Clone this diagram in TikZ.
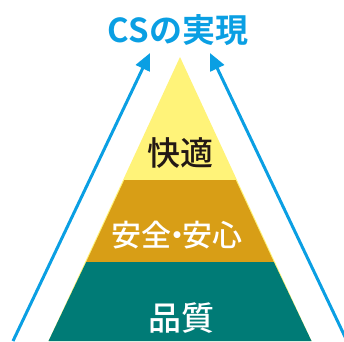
\documentclass[tikz,border=0pt]{standalone}
\usepackage{fontspec}
\setmainfont{Noto Sans CJK JP}
\newfontfamily\cjkbold{Noto Sans CJK JP Bold}
\newfontfamily\cjkmed{Noto Sans CJK JP Medium}
\usetikzlibrary{arrows.meta}
\definecolor{csblue}{HTML}{0A9FE3}
\definecolor{pyyellow}{HTML}{FFF379}
\definecolor{pyorange}{HTML}{D89E16}
\definecolor{pyteal}{HTML}{007B76}
\definecolor{pydark}{HTML}{231815}
\tikzset{
  upArrow/.style={draw=csblue, line width=3pt, -{Triangle[length=17pt,width=15pt]}},
  layerText/.style={font=\cjkmed\fontsize{33}{33}\selectfont, inner sep=0pt},
}
\begin{document}
\begin{tikzpicture}[x=1pt,y=-1pt]
\useasboundingbox (0,0) rectangle (344,341);
\clip (0,0) rectangle (344,341);
% pyramid
\fill[pyyellow] (180,57) -- (311.5,341) -- (48.5,341) -- cycle;
\fill[pyorange] (124.3,180) -- (235.7,180) -- (273.8,262) -- (86.2,262) -- cycle;
\fill[pyteal] (86.2,262) -- (273.8,262) -- (311.5,341) -- (48.5,341) -- cycle;
% labels
\node[layerText, text=pydark] (comfort) at (180,153) {快適};
\node[layerText, text=white, font=\cjkmed\fontsize{30}{30}\selectfont] (safety) at (177,235) {安全\kern-0.33em・\kern-0.33em安心};
\node[layerText, text=white] (quality) at (181,318) {品質};
\node[font=\cjkbold\fontsize{33}{33}\selectfont, text=csblue, inner sep=0pt] (title) at (178,30) {CSの実現};
% arrows
\coordinate (lb) at (13,341);
\coordinate (lt) at (150,53);
\coordinate (rb) at (347,341);
\coordinate (rt) at (210,53);
\draw[upArrow] (lb) -- (lt);
\draw[upArrow] (rb) -- (rt);
\end{tikzpicture}
\end{document}
